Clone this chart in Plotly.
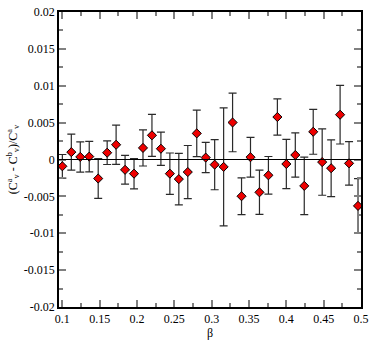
import plotly.graph_objects as go

beta = [0.100, 0.112, 0.124, 0.136, 0.148, 0.160, 0.172, 0.184, 0.196, 0.208,
        0.220, 0.232, 0.244, 0.256, 0.268, 0.280, 0.292, 0.304, 0.316, 0.328,
        0.340, 0.352, 0.364, 0.376, 0.388, 0.400, 0.412, 0.424, 0.436, 0.448,
        0.460, 0.472, 0.484, 0.496]
ratio = [-0.00092, 0.00100, 0.00035, 0.00039, -0.00258, 0.00092, 0.00200, -0.00140,
         -0.00192, 0.00157, 0.00328, 0.00146, -0.00192, -0.00266, -0.00170, 0.00354,
         0.00026, -0.00070, -0.00100, 0.00502, -0.00498, 0.00031, -0.00445, -0.00214,
         0.00576, -0.00061, 0.00061, -0.00358, 0.00376, -0.00035, -0.00118, 0.00607,
         -0.00052, -0.00629]
err = [0.00160, 0.00245, 0.00205, 0.00207, 0.00270, 0.00160, 0.00265, 0.00195,
       0.00205, 0.00245, 0.00285, 0.00225, 0.00280, 0.00350, 0.00360, 0.00315,
       0.00205, 0.00340, 0.00800, 0.00397, 0.00250, 0.00270, 0.00300, 0.00255,
       0.00245, 0.00335, 0.00300, 0.00390, 0.00305, 0.00450, 0.00385, 0.00397,
       0.00295, 0.00370]

xtick_vals = [0.1, 0.15, 0.2, 0.25, 0.3, 0.35, 0.4, 0.45, 0.5]
xtick_text = ["0.1", "0.15", "0.2", "0.25", "0.3", "0.35", "0.4", "0.45", "0.5"]
ytick_vals = [0.02, 0.015, 0.01, 0.005, 0.0, -0.005, -0.01, -0.015, -0.02]
ytick_text = ["0.02", "0.015", "0.01", "0.005", "0", "-0.005", "-0.01", "-0.015", "-0.02"]

font = dict(family="Liberation Serif", size=12, color="black")

fig = go.Figure()
fig.add_hline(y=0, line=dict(color="black", width=1))
fig.add_trace(go.Scatter(
    x=beta, y=ratio, mode="markers",
    marker=dict(symbol="diamond", size=7, color="#ee0000",
                line=dict(color="black", width=1)),
    error_y=dict(type="data", array=err, visible=True, color="#2a2a2a",
                 thickness=1.2, width=4),
    showlegend=False,
))

axis_common = dict(
    showgrid=False, zeroline=False, showline=True, linecolor="black", linewidth=1.5,
    mirror="allticks", ticks="inside", ticklen=7, tickwidth=1.5, tickcolor="#808080",
    tickfont=font,
)
fig.update_xaxes(range=[0.0955, 0.5], tickvals=xtick_vals, ticktext=xtick_text,
                 minor=dict(ticks="inside", ticklen=4, tickwidth=1.5, tickcolor="#808080",
                            tick0=0.1, dtick=0.025),
                 title=dict(text="β", font=font, standoff=2), **axis_common)
fig.update_yaxes(range=[-0.02, 0.02], tickvals=ytick_vals, ticktext=ytick_text,
                 minor=dict(ticks="inside", ticklen=4, tickwidth=1.5, tickcolor="#808080",
                            tick0=0, dtick=0.0025),
                 title=dict(text="(C<sup>a</sup><sub>v</sub> - C<sup>b</sup><sub>v</sub>)/C<sup>a</sup><sub>v</sub>",
                            font=font, standoff=4),
                 **axis_common)
fig.update_layout(
    width=374, height=342,
    margin=dict(l=59, r=9, t=5, b=32),
    plot_bgcolor="white", paper_bgcolor="white",
    font=font,
)
fig.write_html("out.html", config={"displayModeBar": False},
               post_script="document.body.style.margin='0';document.body.style.overflow='hidden';")
